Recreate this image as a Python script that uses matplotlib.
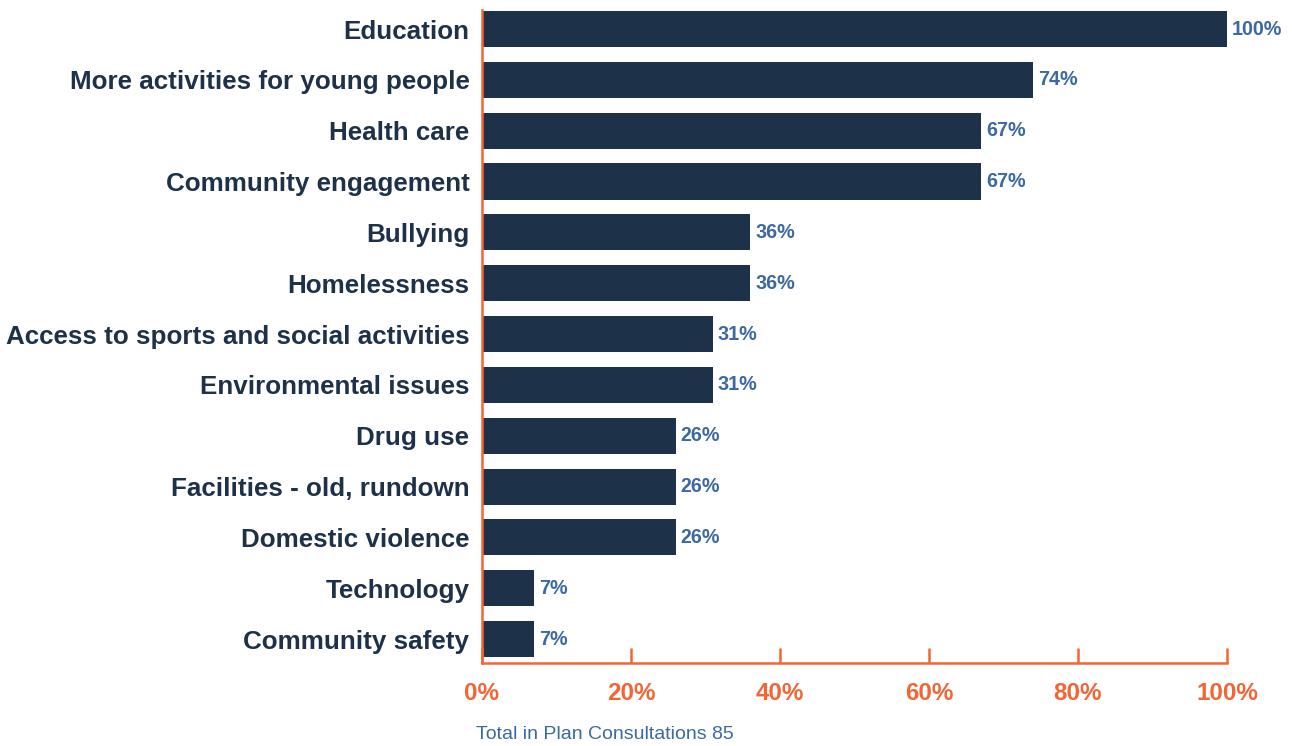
# Horizontal bar chart of issues raised in plan consultations

import matplotlib
matplotlib.use('Agg')
import numpy as np
import matplotlib.pyplot as plt

plt.rcParams['font.family'] = ['Liberation Sans', 'DejaVu Sans']

categories = ['Education', 'More activities for young people', 'Health care',
              'Community engagement', 'Bullying', 'Homelessness',
              'Access to sports and social activities', 'Environmental issues',
              'Drug use', 'Facilities - old, rundown', 'Domestic violence',
              'Technology', 'Community safety']
values = [100, 74, 67, 67, 36, 36, 31, 31, 26, 26, 26, 7, 7]
xticks = [0, 20, 40, 60, 80, 100]
note = 'Total in Plan Consultations 85'

navy = '#1d3249'
blue = '#3c6aa0'
orange = '#f26535'

fig = plt.figure(figsize=(12.92, 7.46), dpi=100)
ax = fig.add_axes([0.373, 0.1113, 0.5767, 0.8753])

y = np.arange(len(categories))
ax.barh(y, values, height=0.71, color=navy)

for yi, v in zip(y, values):
    ax.annotate('%d%%' % v, (v, yi), xytext=(3.5, 0), textcoords='offset points',
                va='center', ha='left', fontsize=14.2, fontweight='bold', color=blue)

ax.set_xlim(0, 100)
ax.set_ylim(12.47, -0.374)
ax.set_yticks(y)
ax.set_yticklabels(categories, fontsize=18.7, fontweight='bold', color=navy)
ax.tick_params(axis='y', length=0, pad=9)

ax.set_xticks(xticks)
ax.set_xticklabels(['%d%%' % t for t in xticks], fontsize=17.4,
                   fontweight='bold', color=orange)
ax.tick_params(axis='x', direction='in', length=11, width=1.8, color=orange, pad=14)

for s in ['top', 'right']:
    ax.spines[s].set_visible(False)
for s in ['left', 'bottom']:
    ax.spines[s].set_color(orange)
    ax.spines[s].set_linewidth(1.8)

fig.text(0.3684, 0.004, note, fontsize=14, color=blue, ha='left', va='bottom')

fig.savefig('out.png', dpi=100)
